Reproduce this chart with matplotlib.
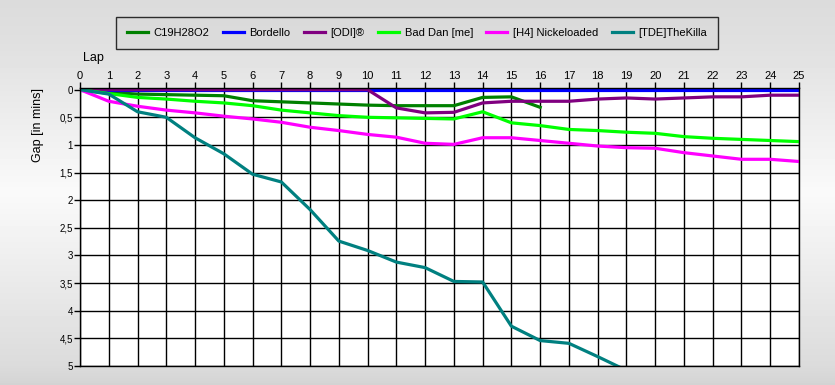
import numpy as np
import matplotlib.pyplot as plt

plt.rcParams['font.family'] = ['Liberation Sans', 'DejaVu Sans']

laps = list(range(26))
names = ["C19H28O2", "Bordello", "[ODI]®", "Bad Dan [me]", "[H4] Nickeloaded", "[TDE]TheKilla"]
colors = ["#008000", "#0000ff", "#800080", "#00ff00", "#ff00ff", "#008080"]

c19 = [0, 0.05, 0.08, 0.09, 0.10, 0.11, 0.20, 0.22, 0.24, 0.26, 0.28, 0.29, 0.29,
       0.29, 0.14, 0.13, 0.32]
bordello = [0] * 26
odi = [0, 0, 0, 0, 0, 0, 0, 0, 0, 0, 0, 0.33, 0.42, 0.41, 0.24, 0.21, 0.21, 0.21,
       0.17, 0.15, 0.17, 0.15, 0.13, 0.13, 0.10, 0.10]
baddan = [0, 0.07, 0.14, 0.17, 0.21, 0.24, 0.29, 0.37, 0.42, 0.47, 0.50, 0.51, 0.52,
          0.53, 0.40, 0.60, 0.65, 0.72, 0.74, 0.77, 0.79, 0.85, 0.88, 0.90, 0.92, 0.94]
h4 = [0, 0.21, 0.30, 0.37, 0.42, 0.48, 0.53, 0.59, 0.68, 0.74, 0.81, 0.86, 0.97,
      0.99, 0.87, 0.87, 0.92, 0.97, 1.02, 1.05, 1.06, 1.14, 1.20, 1.26, 1.26, 1.30]
tde = [0, 0.08, 0.40, 0.50, 0.87, 1.16, 1.53, 1.67, 2.17, 2.74, 2.91, 3.12, 3.22,
       3.47, 3.48, 4.28, 4.54, 4.59, 4.83, 5.08]
series = [c19, bordello, odi, baddan, h4, tde]

yticks = [0, 0.5, 1, 1.5, 2, 2.5, 3, 3.5, 4, 4.5, 5]
ytick_labels = ["0", "0,5", "1", "1,5", "2", "2,5", "3", "3,5", "4", "4,5", "5"]

fig = plt.figure(figsize=(8.35, 3.85), dpi=100)

# background gradient
h = 385
v = np.linspace(0, 1, h)
shade = np.interp(v, [0, 0.12, 0.5, 0.95, 1.0], [0.86, 0.88, 0.98, 0.86, 0.83])
grad = np.tile(shade[:, None], (1, 835))
bg = fig.add_axes([0, 0, 1, 1], zorder=-10)
bg.imshow(grad, cmap='gray', vmin=0, vmax=1, aspect='auto')
bg.axis('off')

ax = fig.add_axes([80 / 835, 1 - 366 / 385, 719 / 835, 278 / 385])
ax.set_facecolor('white')
for name, col, vals in zip(names, colors, series):
    ax.plot(laps[:len(vals)], vals, color=col, lw=2.3, label=name,
            solid_joinstyle='round')

ax.set_xlim(0, 25)
ax.set_ylim(5, -0.03)
ax.xaxis.tick_top()
ax.set_xticks(laps)
ax.set_yticks(yticks)
ax.set_yticklabels(ytick_labels)
ax.tick_params(axis='both', labelsize=7, length=4, width=1, color='black', pad=1)
ax.tick_params(axis='x', labelsize=8, pad=1)
ax.grid(True, color='black', lw=1)
ax.set_axisbelow(True)
for s in ax.spines.values():
    s.set_linewidth(1)
    s.set_color('black')

fig.text(83 / 835, 1 - 58 / 385, "Lap", fontsize=9, va='center', ha='left')
fig.text(38 / 835, 1 - 125 / 385, "Gap [in mins]", fontsize=9, rotation=90,
         va='center', ha='center')

leg = fig.legend(loc='center', bbox_to_anchor=(417 / 835, 1 - 33 / 385), ncol=6,
                 fontsize=8, frameon=True, fancybox=False, handlelength=1.9,
                 columnspacing=1.2, handletextpad=0.5, borderpad=1.0)
leg.get_frame().set_edgecolor('black')
leg.get_frame().set_facecolor('#dadada')
leg.get_frame().set_linewidth(1)

fig.savefig("out.png", dpi=100)
